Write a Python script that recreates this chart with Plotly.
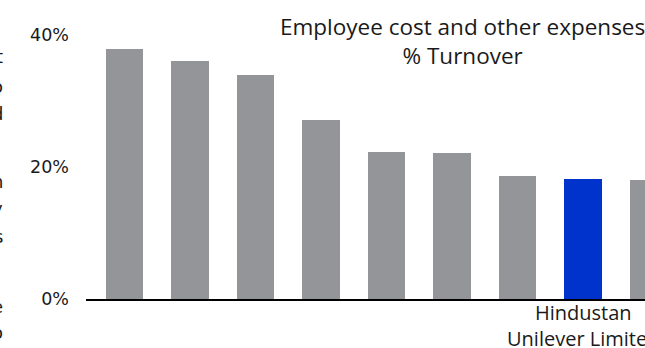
import plotly.graph_objects as go

# --- data ---
bar_labels = ["", "", "", "", "", "", "", "Hindustan<br>Unilever Limited", ""]
values = [37.9, 36.1, 33.9, 27.1, 22.3, 22.1, 18.6, 18.2, 18.0]
highlight_index = 7
y_ticks = [0, 20, 40]
y_tick_text = ["0%", "20%", "40%"]
title_text = "Employee cost and other expenses<br>% Turnover"
# clipped fragments of a neighbouring paragraph on the left edge
side_letters = ["t", "o", "d", "n", "y", "s", "e", "o"]
side_letter_y = [56, 86, 114, 181, 208, 236, 306, 332]

GREY = "#939598"
BLUE = "#0033cc"

W, H = 645, 348
ML, MR, MT, MB = 86, 0, 35, 49
plot_w = W - ML - MR
plot_h = H - MT - MB

positions = list(range(len(values)))
colors = [BLUE if i == highlight_index else GREY for i in positions]

fig = go.Figure()
fig.add_trace(go.Bar(
    x=positions, y=values, marker=dict(color=colors, line=dict(width=0)),
    width=0.573, hoverinfo="skip", showlegend=False,
))

annotations = []
# title
annotations.append(dict(
    text=title_text, xref="paper", yref="paper",
    x=(462 - ML) / plot_w, y=(H - MB - 41) / plot_h,
    xanchor="center", yanchor="middle", showarrow=False,
    font=dict(family="Open Sans", size=22.5, color="#1a1a1a"),
))
# category label under the highlighted bar
for i, lab in enumerate(bar_labels):
    if lab:
        annotations.append(dict(
            text=lab, x=i, xref="x", yref="paper", y=(H - MB - 297) / plot_h,
            xanchor="center", yanchor="top", showarrow=False,
            font=dict(family="Open Sans", size=20, color="#1a1a1a"),
        ))
# clipped side text
for ch, py in zip(side_letters, side_letter_y):
    annotations.append(dict(
        text=ch, xref="paper", yref="paper",
        x=(5 - ML) / plot_w, y=(H - MB - py) / plot_h,
        xanchor="right", yanchor="middle", showarrow=False,
        font=dict(family="DejaVu Sans", size=18, color="#1a1a1a"),
    ))

fig.update_layout(
    width=W, height=H,
    margin=dict(l=ML, r=MR, t=MT, b=MB, pad=0),
    paper_bgcolor="white", plot_bgcolor="white",
    bargap=0,
    xaxis=dict(
        range=[-0.588, 7.947], showgrid=False, zeroline=False,
        showline=True, linecolor="#000000", linewidth=1.5,
        tickvals=[], showticklabels=False, fixedrange=True,
    ),
    yaxis=dict(
        range=[0, 40], tickvals=y_ticks, ticktext=y_tick_text,
        showgrid=False, zeroline=False, showline=False,
        ticks="", ticklabelstandoff=16,
        tickfont=dict(family="DejaVu Sans", size=17.5, color="#1a1a1a"),
        fixedrange=True,
    ),
    annotations=annotations,
)

fig.write_html(
    "out.html",
    config={"displayModeBar": False},
    post_script="document.body.style.margin='0';document.body.style.overflow='hidden';",
)
